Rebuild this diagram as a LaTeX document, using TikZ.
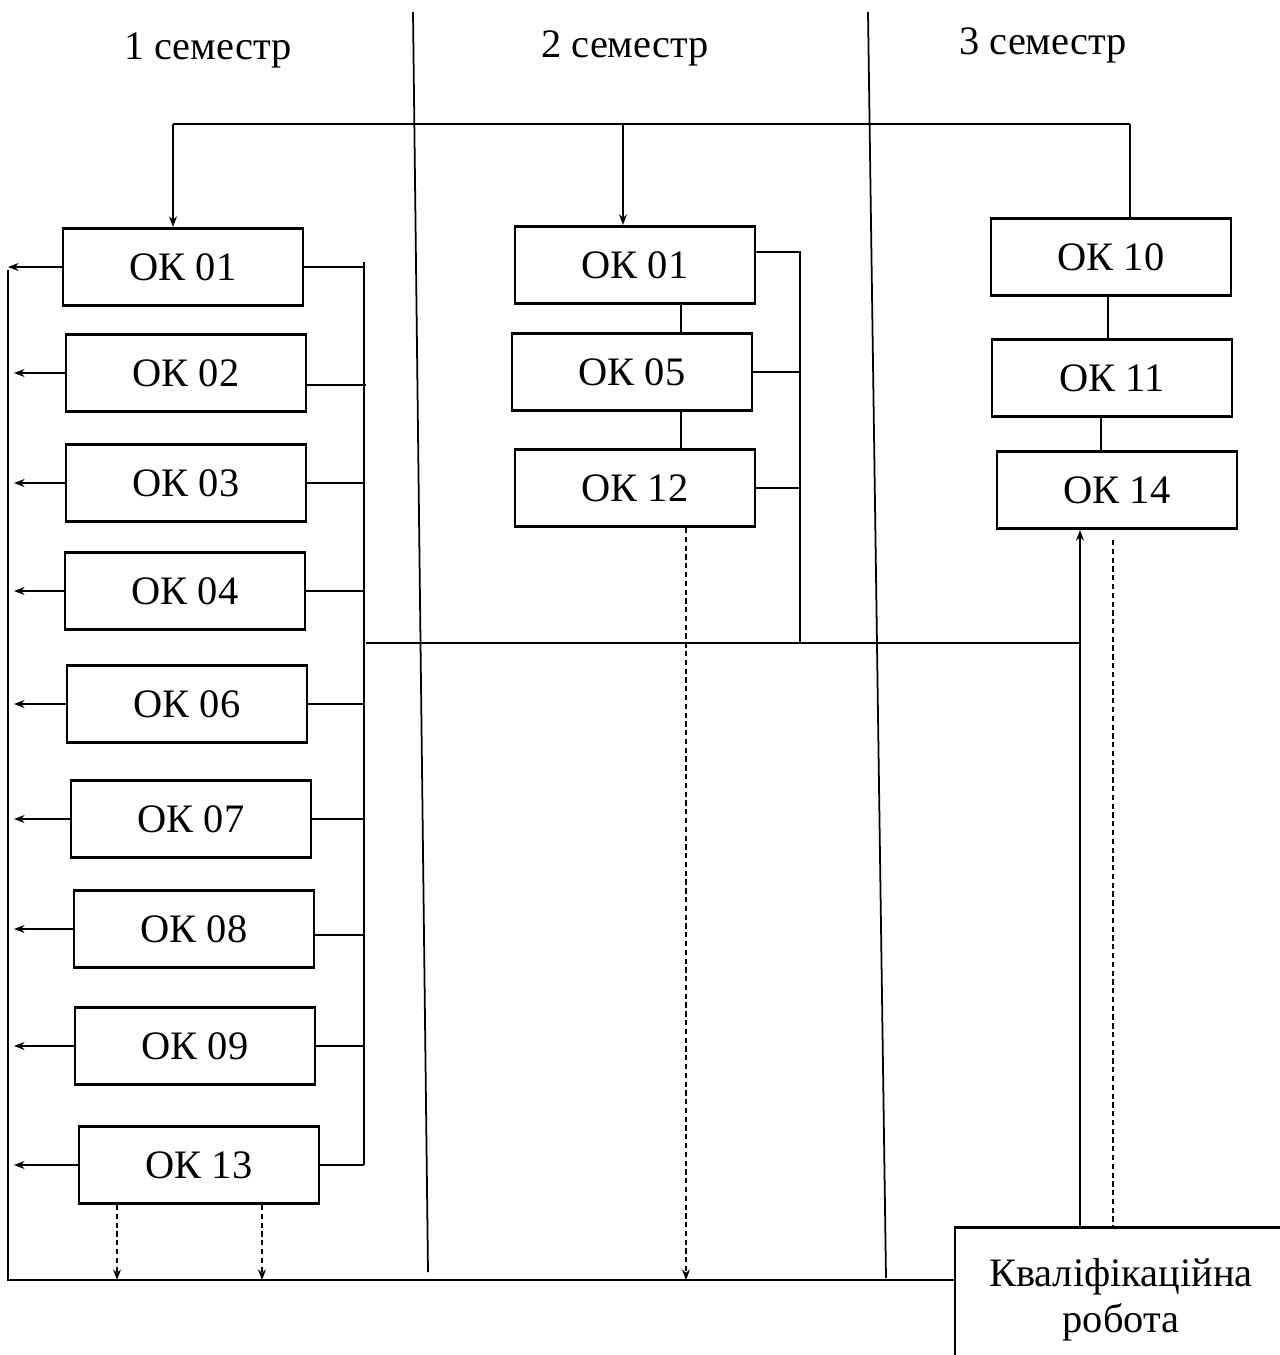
\documentclass[tikz,border=0pt]{standalone}
\usepackage{fontspec}
\setmainfont{Liberation Serif}
\usepackage{tikz}
\usetikzlibrary{arrows.meta,positioning}

\begin{document}
\begin{tikzpicture}[
  x=0.02cm, y=-0.02cm,
  okbox/.style={draw, line width=1.5pt, minimum width=4.8cm, minimum height=1.55cm, inner sep=2pt},
  head/.style={inner sep=0pt},
  link/.style={line width=1pt},
  arr/.style={line width=1pt, -{Stealth[length=6pt,width=4.5pt]}},
  dasharr/.style={line width=1pt, dash pattern=on 3pt off 2pt, -{Stealth[length=6pt,width=4.5pt]}},
  dashlink/.style={line width=1pt, dash pattern=on 3pt off 2pt},
  every node/.style={font=\fontsize{23}{26}\selectfont}
]
\useasboundingbox (0,0) rectangle (1279,1355);

% semester headers and dividers
\node[head] (h1) at (208,50) {1 семестр};
\node[head] (h2) at (625,48) {2 семестр};
\node[head] (h3) at (1043,45) {3 семестр};
\draw[link] (413,12) -- (428,1272);
\draw[link] (868,12) -- (886,1278);

% semester 1
\node[okbox] (a01) at (183,267) {ОК 01};
\node[okbox] (a02) at (186,373) {ОК 02};
\node[okbox] (a03) at (186,483) {ОК 03};
\node[okbox] (a04) at (185,591) {ОК 04};
\node[okbox] (a06) at (187,704) {ОК 06};
\node[okbox] (a07) at (191,819) {ОК 07};
\node[okbox] (a08) at (194,929) {ОК 08};
\node[okbox] (a09) at (195,1046) {ОК 09};
\node[okbox] (a13) at (199,1165) {ОК 13};

% semester 2
\node[okbox] (b01) at (635,265) {ОК 01};
\node[okbox] (b05) at (632,372) {ОК 05};
\node[okbox] (b12) at (635,488) {ОК 12};

% semester 3
\node[okbox] (c10) at (1111,257) {ОК 10};
\node[okbox] (c11) at (1112,378) {ОК 11};
\node[okbox] (c14) at (1117,490) {ОК 14};

\node[okbox, minimum width=6.64cm, minimum height=2.74cm, align=center] (kv) at (1121,1296) {};
\node[align=center, inner sep=0pt] (kvtext) at (1121,1300) {Кваліфікаційна\\робота};

% helper coordinates
\coordinate (tl) at (173,124);
\coordinate (tm) at (623,124);
\coordinate (tr) at (1130,124);
\coordinate (bus1) at (364,262);
\coordinate (bus1b) at (364,1165);
\coordinate (bus2) at (800,252);
\coordinate (mid) at (366,643);
\coordinate (lt) at (8,270);
\coordinate (lb) at (8,1280);
\coordinate (li) at (14,0);
\coordinate (v2) at (681,0);
\coordinate (v3a) at (1108,0);
\coordinate (v3b) at (1101,0);
\coordinate (up) at (1080,0);
\coordinate (dr) at (1113,0);
\coordinate (d1) at ([xshift=-1.64cm]a13.south);
\coordinate (d2) at ([xshift=1.26cm]a13.south);
\coordinate (d3) at ([xshift=1.02cm]b12.south);

% top distribution line
\draw[link] (tl) -- (tr);
\draw[arr] (tl) -- (tl |- a01.north);
\draw[arr] (tm) -- (tm |- b01.north);
\draw[link] (tr) -- (tr |- c10.north);

% semester 1 right bus
\draw[link] (bus1) -- (bus1b);
\draw[link] (a01.east) -- (a01.east -| bus1);
\draw[link] ([yshift=-0.24cm]a02.east) -- ++(1.18cm,0);
\draw[link] (a03.east) -- (a03.east -| bus1);
\draw[link] (a04.east) -- (a04.east -| bus1);
\draw[link] (a06.east) -- (a06.east -| bus1);
\draw[link] (a07.east) -- (a07.east -| bus1);
\draw[link] ([yshift=-0.12cm]a08.east) -- ++(0.98cm,0);
\draw[link] (a09.east) -- (a09.east -| bus1);
\draw[link] (a13.east) -- (bus1b);

% semester 1 left arrows
\draw[link] (lt) -- (lb) -- (lb -| kv.west);
\draw[arr] (a01.west) -- (a01.west -| lt);
\draw[arr] (a02.west) -- (a02.west -| li);
\draw[arr] (a03.west) -- (a03.west -| li);
\draw[arr] (a04.west) -- (a04.west -| li);
\draw[arr] (a06.west) -- (a06.west -| li);
\draw[arr] (a07.west) -- (a07.west -| li);
\draw[arr] (a08.west) -- (a08.west -| li);
\draw[arr] (a09.west) -- (a09.west -| li);
\draw[arr] (a13.west) -- (a13.west -| li);
\draw[dasharr] (d1) -- (d1 |- lb);
\draw[dasharr] (d2) -- (d2 |- lb);

% semester 2 chain and bus
\draw[link] (v2 |- b01.south) -- (v2 |- b05.north);
\draw[link] (v2 |- b05.south) -- (v2 |- b12.north);
\draw[link] ([yshift=0.26cm]b01.east) -- (bus2) -- (bus2 |- mid);
\draw[link] (b05.east) -- (b05.east -| bus2);
\draw[link] (b12.east) -- (b12.east -| bus2);
\draw[dasharr] (d3) -- (d3 |- lb);

% semester 3 chain
\draw[link] (v3a |- c10.south) -- (v3a |- c11.north);
\draw[link] (v3b |- c11.south) -- (v3b |- c14.north);

% link to the final work
\draw[link] (mid) -- (mid -| up);
\draw[arr] (up |- kv.north) -- (up |- c14.south);
\draw[dashlink] ([yshift=-0.2cm]dr |- c14.south) -- (dr |- kv.north);
\end{tikzpicture}
\end{document}
